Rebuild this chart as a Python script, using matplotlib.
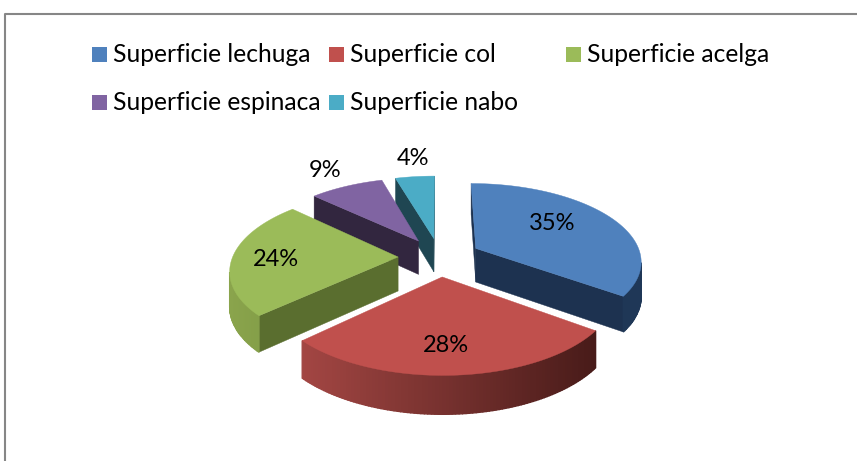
"""Exploded 3D style pie (superficie por cultivo), drawn with polygons in pixel coords."""
import numpy as np
import matplotlib; matplotlib.use("Agg")
import matplotlib.pyplot as plt
from matplotlib.colors import to_rgb
from matplotlib.patches import Polygon, Rectangle

# data
labels = ["Superficie lechuga", "Superficie col", "Superficie acelga",
          "Superficie espinaca", "Superficie nabo"]
shares = [35, 28, 24, 8.5, 4.5]  # labels are rounded
pct_labels = ["35%", "28%", "24%", "9%", "4%"]
top_colors = ["#4f81bd", "#c0504d", "#9bbb59", "#8064a2", "#4bacc6"]
side_colors = ["#1d3250", "#4c1d1b", "#5a6e2f", "#32263f", "#1f4652"]
rim_left = ["#1d3250", "#a34643", "#8aa44c", "#5d4a76", "#3c8ba0"]
rim_right = ["#1f3757", "#481b19", "#7f9a45", "#4d3d63", "#2f7283"]
pct_pos = [(552, 223), (446, 345), (276, 259), (325, 170), (413, 158)]
legend_x = [92, 329, 566, 92, 329]
legend_y = [54, 54, 54, 102, 102]

# projection of the disk, fitted by eye
CX, CY = 439.5, 257
RX, RY = 165.5, 77
PERSP = 0.15
EXPLODE = 0.25
DEPTH = 34

def project(u, v):
    s = 1 / (1 + PERSP * v)
    return np.array([CX + RX * u * s, CY - RY * v * s]), DEPTH * s ** 0.65

def area(pts):
    x, y = np.array(pts).T
    return 0.5 * np.sum(x * np.roll(y, -1) - np.roll(x, -1) * y)

def face(ax, pts, color, lw=0.3):
    # only faces turned towards the viewer get drawn
    if area(pts) < 0:
        ax.add_patch(Polygon(pts, closed=True, fc=color, ec=color, lw=lw))

def wedge(ax, a0, a1, i):
    mid = (a0 + a1) / 2
    ou, ov = EXPLODE * np.sin(mid), EXPLODE * np.cos(mid)
    angs = np.linspace(a0, a1, max(int((a1 - a0) * 60), 4))
    apex, h_apex = project(ou, ov)
    rim = [project(ou + np.sin(a), ov + np.cos(a)) for a in angs]
    down = lambda p, h: p + np.array([0, h])
    # radial sides
    first, h0 = rim[0]
    last, h1 = rim[-1]
    face(ax, [apex, first, down(first, h0), down(apex, h_apex)], side_colors[i])
    face(ax, [last, apex, down(apex, h_apex), down(last, h1)], side_colors[i])
    # rim, shaded left to right across the pie
    c0, c1 = np.array(to_rgb(rim_left[i])), np.array(to_rgb(rim_right[i]))
    xs = np.array([p[0] for p, _ in rim])
    for (p, hp), (q, hq) in zip(rim[:-1], rim[1:]):
        t = np.clip((p[0] - xs.min()) / max(np.ptp(xs), 1), 0, 1)
        # thicker edge hides the seams between the strips
        face(ax, [p, q, down(q, hq), down(p, hp)], tuple(c0 + (c1 - c0) * t), lw=1.0)
    # top
    ax.add_patch(Polygon([apex] + [p for p, _ in rim], closed=True,
                         fc=top_colors[i], ec=top_colors[i], lw=0.3))

plt.rcParams["font.family"] = ["Lato", "DejaVu Sans"]
fig = plt.figure(figsize=(8.57, 4.61), dpi=100)
ax = fig.add_axes([0, 0, 1, 1])
ax.set_xlim(0, 857); ax.set_ylim(461, 0); ax.axis("off")

# chart frame, runs off the bottom and right
ax.plot([5.5, 5.5, 870], [470, 14.5, 14.5], color="#868686", lw=1.5)

fracs = np.array(shares) / sum(shares)
ends = np.cumsum(fracs) * 2 * np.pi
starts = ends - fracs * 2 * np.pi
# back slices first, front ones painted over them
for i in [4, 3, 0, 2, 1]:
    wedge(ax, starts[i], ends[i], i)

for txt, (x, y) in zip(pct_labels, pct_pos):
    ax.text(x, y, txt, fontsize=17, ha="center", va="center", color="black")

for name, col, x, y in zip(labels, top_colors, legend_x, legend_y):
    ax.add_patch(Rectangle((x, y - 7), 15, 15, fc=col, ec="none"))
    ax.text(x + 21, y, name, fontsize=17.7, ha="left", va="center", color="black")

fig.savefig("out.png", dpi=100)
